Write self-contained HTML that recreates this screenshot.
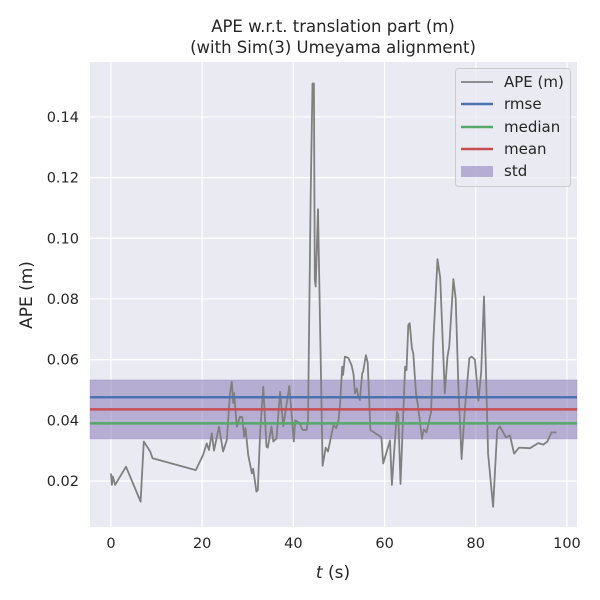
<!DOCTYPE html>
<html><head><meta charset="utf-8"><style>
html,body{margin:0;padding:0;background:#fff;}
svg{display:block;font-family:"DejaVu Sans","Liberation Sans",sans-serif;}
</style></head><body>
<svg id="chart" width="600" height="600" viewBox="0 0 600 600">
<text x="333" y="32" text-anchor="middle" font-size="16.5" fill="#262626">APE w.r.t. translation part (m)</text>
<text x="333" y="53" text-anchor="middle" font-size="16.5" fill="#262626">(with Sim(3) Umeyama alignment)</text>
<rect x="90" y="62" width="487" height="465" fill="#eaeaf2"/>
<g id="grid"></g><g id="band"></g><g id="series"></g><g id="stats"></g><g id="ticks"></g>
<text x="333" y="578" text-anchor="middle" font-size="17" fill="#262626"><tspan font-style="italic">t</tspan> (s)</text>
<text transform="translate(32,295) rotate(-90)" text-anchor="middle" font-size="17" fill="#262626">APE (m)</text>
<g>
<rect x="455.5" y="68.5" width="115" height="118" rx="3" fill="#eaeaf2" fill-opacity="0.8" stroke="#cccccc"/>
<line x1="461" y1="82" x2="493" y2="82" stroke="#808080" stroke-width="1.8"/>
<text x="504" y="87" font-size="15" fill="#262626">APE (m)</text>
<line x1="461" y1="104" x2="493" y2="104" stroke="#4c72b0" stroke-width="2.5"/>
<text x="504" y="109" font-size="15" fill="#262626">rmse</text>
<line x1="461" y1="127" x2="493" y2="127" stroke="#55a868" stroke-width="2.5"/>
<text x="504" y="132" font-size="15" fill="#262626">median</text>
<line x1="461" y1="149" x2="493" y2="149" stroke="#c44e52" stroke-width="2.5"/>
<text x="504" y="154" font-size="15" fill="#262626">mean</text>
<rect x="461" y="166" width="32" height="11" fill="#8172b2" fill-opacity="0.5"/>
<text x="504" y="176" font-size="15" fill="#262626">std</text>
</g>
</svg>
<script>
const tValues=[0,0.2,0.4,0.9,3.3,6.5,7.2,8.6,9.1,18.6,20.2,21,21.5,22.1,22.6,23.7,24.6,25.4,26.1,26.5,26.8,27,27.6,28.3,28.8,29.2,29.5,30.1,30.9,31.2,31.9,32.2,32.7,33.4,34.1,34.4,35.2,35.6,36.3,37.1,37.8,39.1,39.7,40.1,40.4,41.4,42,42.9,43.2,43.8,44.2,44.5,44.7,44.9,45.4,46.4,47.1,47.6,48.8,49.4,49.9,50.2,50.7,50.9,51.3,52.1,52.8,53.2,53.5,53.9,54.2,54.6,55.1,55.3,55.9,56.3,56.9,59.3,59.7,61.2,61.6,62.7,63,63.5,64.5,64.8,65.2,65.5,66,66.3,66.9,67.4,68.2,68.6,69.2,70.2,70.7,71.6,72.2,73.2,73.8,74.2,75.1,75.6,76.2,76.9,77.6,78.6,79.1,79.8,80.6,81.2,81.8,82.7,83.8,84.7,85.3,86.6,87.5,88.4,89.5,91.9,93.7,94.8,95.7,96.6,97.7];
const apeValues=[0.0225,0.0187,0.0215,0.0187,0.0247,0.0132,0.033,0.0297,0.0275,0.0236,0.0286,0.0324,0.0302,0.0357,0.030,0.0379,0.0297,0.0335,0.0489,0.0527,0.0457,0.049,0.0379,0.0412,0.041,0.0346,0.0374,0.0286,0.0225,0.024,0.0165,0.017,0.0357,0.0511,0.0313,0.031,0.038,0.033,0.034,0.0494,0.038,0.0513,0.0405,0.033,0.040,0.039,0.0368,0.0368,0.040,0.1149,0.151,0.151,0.0863,0.0841,0.1096,0.025,0.031,0.0297,0.0385,0.0374,0.040,0.0445,0.0577,0.055,0.061,0.0605,0.058,0.055,0.0489,0.0505,0.048,0.0467,0.0555,0.056,0.0615,0.059,0.0368,0.0344,0.0258,0.0333,0.0187,0.0428,0.042,0.019,0.0577,0.0565,0.0714,0.072,0.0638,0.062,0.0489,0.044,0.0339,0.037,0.036,0.0428,0.0665,0.0931,0.087,0.0489,0.061,0.0645,0.0865,0.080,0.051,0.0272,0.0434,0.0605,0.061,0.060,0.0465,0.056,0.0808,0.029,0.0115,0.0368,0.038,0.0344,0.035,0.029,0.031,0.0308,0.0325,0.032,0.033,0.036,0.036];
const statNames=['rmse','mean','median'];
const statValues=[0.0476,0.0436,0.039];
const stdRange=[0.0339,0.0533];
const xTicks=[0,20,40,60,80,100];
const yTicks=[0.02,0.04,0.06,0.08,0.10,0.12,0.14];
const yTickLabels=['0.02','0.04','0.06','0.08','0.10','0.12','0.14'];

const L=90,R=577,T=62,B=527,xMin=-4.6,xMax=102.2,yMin=0.00483,yMax=0.1581;
const xs=v=>L+(v-xMin)/(xMax-xMin)*(R-L);
const ys=v=>B-(v-yMin)/(yMax-yMin)*(B-T);
const NS='http://www.w3.org/2000/svg';
function mk(tag,parent,attrs){const e=document.createElementNS(NS,tag);for(const k in attrs)e.setAttribute(k,attrs[k]);document.getElementById(parent).appendChild(e);return e;}
const colors={rmse:'#4c72b0',mean:'#c44e52',median:'#55a868'};

xTicks.forEach(v=>{
  const g=mk('line','grid',{x1:xs(v),x2:xs(v),y1:T,y2:B,stroke:'#fff','stroke-width':1.2});
  
  
  const t=mk('text','ticks',{x:xs(v),y:B+21,'text-anchor':'middle','font-size':14.5,fill:'#262626'});
  t.textContent=v;
  
  
});
yTicks.forEach((v,i)=>{
  const g=mk('line','grid',{x1:L,x2:R,y1:ys(v),y2:ys(v),stroke:'#fff','stroke-width':1.2});
  
  
  const t=mk('text','ticks',{x:L-11,y:ys(v)+5,'text-anchor':'end','font-size':14.5,fill:'#262626'});
  t.textContent=yTickLabels[i];
  
  
});
const band=mk('rect','band',{x:L,width:R-L,y:ys(stdRange[1]),height:ys(stdRange[0])-ys(stdRange[1]),fill:'#8172b2','fill-opacity':0.5,stroke:'#8172b2','stroke-opacity':0.3});


const pts=tValues.map((t,i)=>xs(t).toFixed(1)+','+ys(apeValues[i]).toFixed(1)).join(' ');
const line=mk('polyline','series',{points:pts,fill:'none',stroke:'#808080','stroke-width':1.8,'stroke-linejoin':'round'});


statNames.forEach((n,i)=>{
  const l=mk('line','stats',{x1:L,x2:R,y1:ys(statValues[i]),y2:ys(statValues[i]),stroke:colors[n],'stroke-width':2.5});
  
  
});
</script>
</body></html>
